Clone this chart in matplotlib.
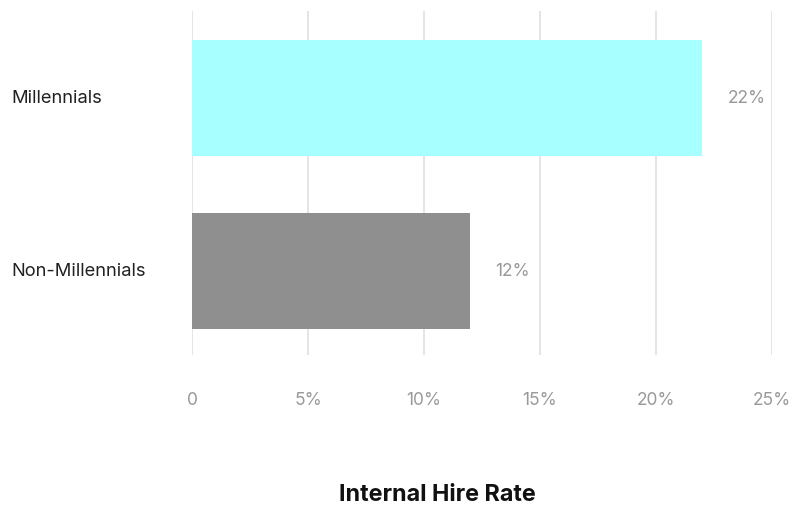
import matplotlib.pyplot as plt
from matplotlib.ticker import FuncFormatter
from matplotlib.transforms import blended_transform_factory

# data
categories = ["Millennials", "Non-Millennials"]
rates = [22, 12]
bar_colors = ["#A8FFFF", "#8F8F8F"]
xticks = [0, 5, 10, 15, 20, 25]

plt.rcParams['font.family'] = ['Inter', 'DejaVu Sans']

fig = plt.figure(figsize=(7.94, 5.06), dpi=100)
ax = fig.add_axes([0.2418, 0.2964, 0.7305, 0.6799])

y = list(range(len(categories)))
ax.barh(y, rates, height=0.67, color=bar_colors, zorder=2)

ax.set_xlim(0, 25)
ax.set_ylim(1.486, -0.503)
ax.set_xticks(xticks)
ax.xaxis.set_major_formatter(FuncFormatter(lambda v, p: "0" if v == 0 else f"{v:.0f}%"))
ax.grid(axis='x', color='#e0e0e0', linewidth=1.2, zorder=0)
ax.tick_params(axis='x', length=0, pad=26, labelsize=12.5, labelcolor='#999999')
ax.set_yticks([])
for s in ax.spines.values():
    s.set_visible(False)

# category labels at the left edge of the figure
trans = blended_transform_factory(fig.transFigure, ax.transData)
for yi, cat in zip(y, categories):
    ax.text(11 / 794, yi, cat, transform=trans, fontsize=13.2, color='#222222',
            va='center', ha='left')

for yi, v in zip(y, rates):
    ax.annotate(f"{v}%", (v, yi), xytext=(25, 0), textcoords='offset pixels',
                fontsize=12.5, color='#999999', va='center', ha='left')

fig.text(0.551, 1 - 495 / 506, "Internal Hire Rate", fontsize=16.8, fontweight='bold',
         ha='center', va='center', color='#111111')

plt.savefig("out.png", dpi=100)
plt.close()
